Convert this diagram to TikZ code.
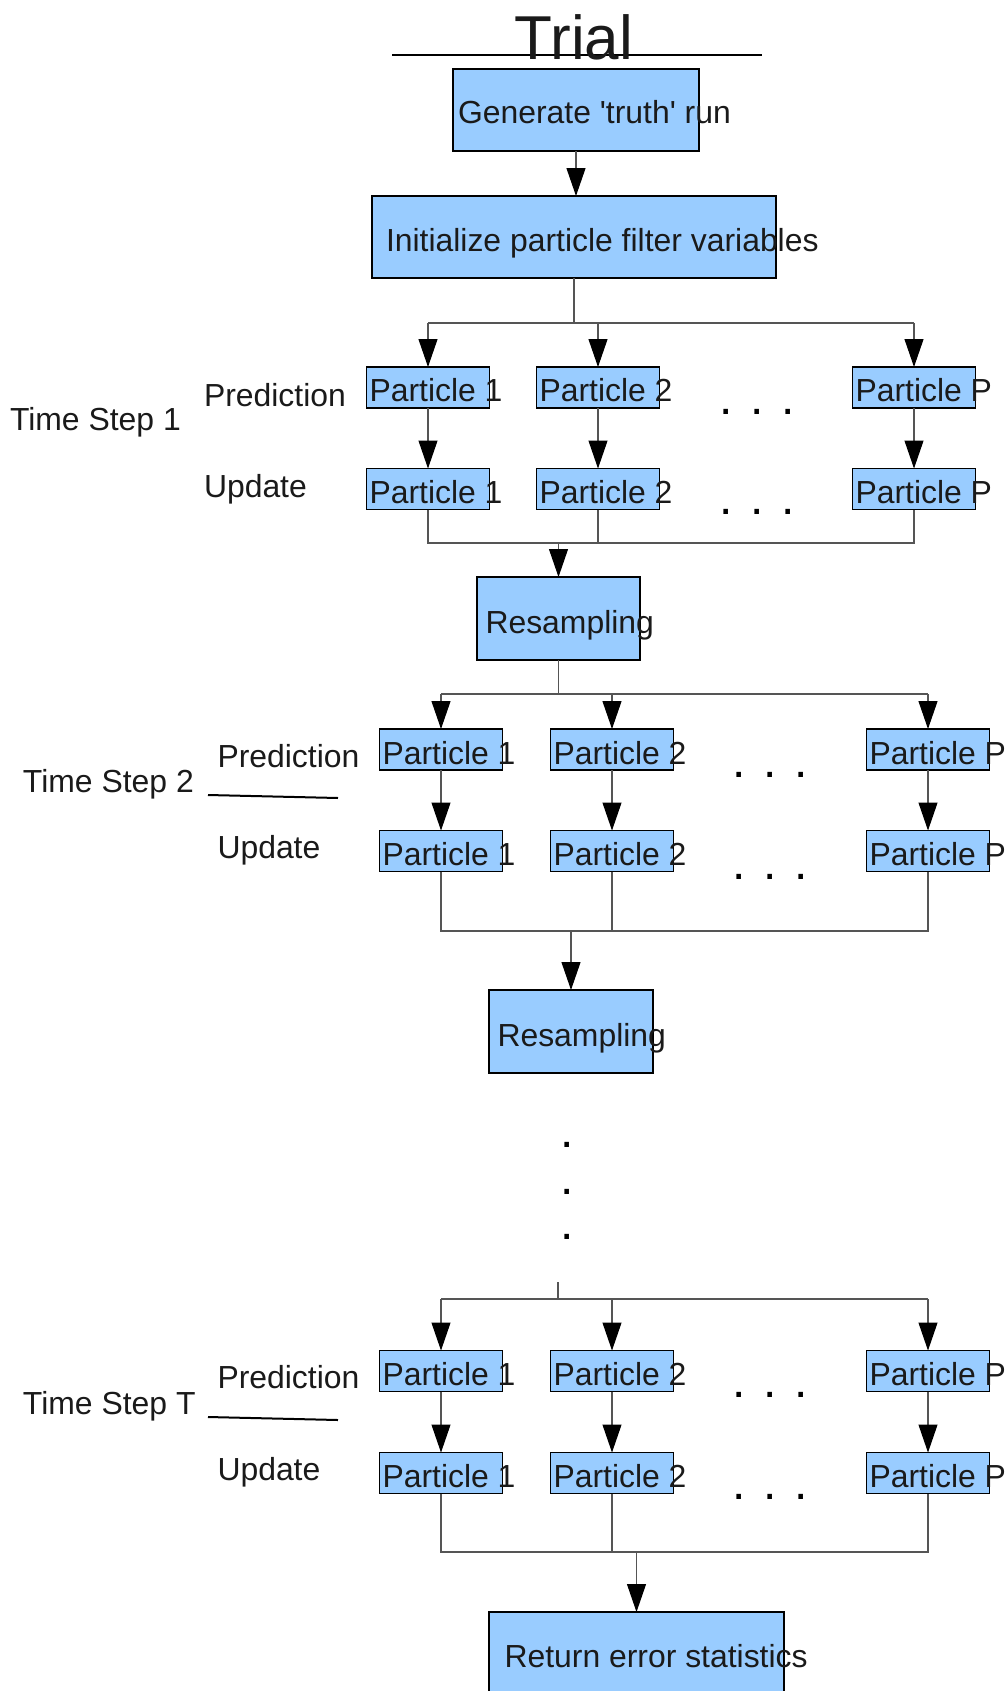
\documentclass[tikz,border=0pt]{standalone}
\usepackage{fontspec}
\setmainfont{Liberation Sans}[Ligatures=TeXOff]
\usetikzlibrary{arrows.meta}
\definecolor{boxblue}{HTML}{99CCFF}
\definecolor{txtc}{HTML}{1A1A1A}
\definecolor{wire}{HTML}{555555}
\begin{document}
\begin{tikzpicture}[x=1pt,y=-1pt,
  every node/.style={inner sep=0pt, outer sep=0pt},
  box/.style={draw=black, line width=1.9pt, fill=boxblue},
  pbox/.style={box, minimum width=123pt, minimum height=41pt},
  txt/.style={anchor=base west, text=txtc, font=\fontsize{31.9pt}{38pt}\selectfont},
  dots/.style={anchor=base, text=black, font=\fontsize{48pt}{56pt}\selectfont},
  conn/.style={draw=wire, line width=1.1pt},
  arr/.style={conn, -{Triangle[length=28pt,width=19pt,color=black]}},
  uline/.style={draw=black, line width=2pt},
]
\useasboundingbox (0,0) rectangle (1006,1691);

% ---------- title ----------
\coordinate (tl) at (392,55);
\coordinate (tr) at (762,55);
\draw[line width=1.5pt, black] (tl) -- (tr);
\node[anchor=base, text=txtc, font=\fontsize{62pt}{70pt}\selectfont] (trial) at (574,60) {Trial};

% ---------- top boxes ----------
\node[box, minimum width=246pt, minimum height=82pt] (gen) at (576,110) {};
\node[txt] (gent) at ([shift={(5,14)}]gen.west) {Generate 'truth' run};
\node[box, minimum width=404pt, minimum height=82pt] (init) at (574,237) {};
\node[txt] (initt) at ([shift={(14,14.5)}]init.west) {Initialize particle filter variables};
\draw[arr] (gen.south) -- (gen.south |- init.north);

% ---------- time step 1 ----------
\foreach \c/\x in {1/428, 2/598, P/914} {
  \node[pbox] (pa\c) at (\x,387.5) {};
  \node[txt] (tpa\c) at ([shift={(3,14)}]pa\c.west) {Particle \c};
  \node[pbox] (ua\c) at (\x,489) {};
  \node[txt] (tua\c) at ([shift={(3,14)}]ua\c.west) {Particle \c};
}
\node[txt] (ts1) at (10,430) {Time Step 1};
\node[txt] (pr1) at (204,406) {Prediction};
\node[txt] (up1) at (204,497) {Update};
\node[dots] (da1) at (757,414.5) {. . .};
\node[dots] (db1) at (757,514.5) {. . .};

\coordinate (b1) at (574,323);
\draw[conn] (init.south) -- (b1);
\draw[conn] (b1 -| pa1.north) -- (b1 -| paP.north);
\foreach \c in {1,2,P} {
  \draw[arr] (b1 -| pa\c.north) -- (pa\c.north);
  \draw[arr] (pa\c.south) -- (ua\c.north);
}
\node[box, minimum width=163pt, minimum height=83pt] (res1) at (558.5,618.5) {};
\node[txt] (res1t) at ([shift={(8.5,14.5)}]res1.west) {Resampling};
\coordinate (m1) at (558.5,543);
\draw[conn] (ua1.south) -- (ua1.south |- m1) -- (uaP.south |- m1) -- (uaP.south);
\draw[conn] (ua2.south) -- (ua2.south |- m1) -- (m1);
\draw[arr] (m1) -- (res1.north);

% ---------- time step 2 ----------
\foreach \c/\x in {1/441, 2/612, P/928} {
  \node[pbox] (pb\c) at (\x,749.5) {};
  \node[txt] (tpb\c) at ([shift={(3,14.5)}]pb\c.west) {Particle \c};
  \node[pbox] (ub\c) at (\x,851) {};
  \node[txt] (tub\c) at ([shift={(3,14.5)}]ub\c.west) {Particle \c};
}
\node[txt] (ts2) at (23,792) {Time Step 2};
\coordinate (l2a) at (208,795);
\coordinate (l2b) at (338,798);
\draw[uline] (l2a) -- (l2b);
\node[txt] (pr2) at (217.5,767) {Prediction};
\node[txt] (up2) at (217.5,858) {Update};
\node[dots] (da2) at (770,777.5) {. . .};
\node[dots] (db2) at (770,879.5) {. . .};

\coordinate (b2) at (558.5,694);
\draw[conn] (res1.south) -- (b2);
\draw[conn] (b2 -| pb1.north) -- (b2 -| pbP.north);
\foreach \c in {1,2,P} {
  \draw[arr] (b2 -| pb\c.north) -- (pb\c.north);
  \draw[arr] (pb\c.south) -- (ub\c.north);
}
\node[box, minimum width=164pt, minimum height=83pt] (res2) at (571,1031.5) {};
\node[txt] (res2t) at ([shift={(8.5,15)}]res2.west) {Resampling};
\coordinate (m2) at (571,931);
\draw[conn] (ub1.south) -- (ub1.south |- m2) -- (ubP.south |- m2) -- (ubP.south);
\draw[conn] (ub2.south) -- (ub2.south |- m2) -- (m2);
\draw[arr] (m2) -- (res2.north);

% ---------- vertical dots ----------
\node[dots] (v1) at (567,1147.5) {.};
\node[dots] (v2) at (567,1194.5) {.};
\node[dots] (v3) at (567,1239.5) {.};

% ---------- time step T ----------
\foreach \c/\x in {1/441, 2/612, P/928} {
  \node[pbox] (pc\c) at (\x,1371) {};
  \node[txt] (tpc\c) at ([shift={(3,14)}]pc\c.west) {Particle \c};
  \node[pbox] (uc\c) at (\x,1473) {};
  \node[txt] (tuc\c) at ([shift={(3,14)}]uc\c.west) {Particle \c};
}
\node[txt] (ts3) at (23,1414) {Time Step T};
\coordinate (l3a) at (208,1417);
\coordinate (l3b) at (338,1420);
\draw[uline] (l3a) -- (l3b);
\node[txt] (pr3) at (217.5,1388) {Prediction};
\node[txt] (up3) at (217.5,1480) {Update};
\node[dots] (da3) at (770,1397.5) {. . .};
\node[dots] (db3) at (770,1499.5) {. . .};

\coordinate (s3) at (558,1282);
\coordinate (b3) at (558,1299);
\draw[conn] (s3) -- (b3);
\draw[conn] (b3 -| pc1.north) -- (b3 -| pcP.north);
\foreach \c in {1,2,P} {
  \draw[arr] (b3 -| pc\c.north) -- (pc\c.north);
  \draw[arr] (pc\c.south) -- (uc\c.north);
}
\node[box, minimum width=295pt, minimum height=90pt] (ret) at (636.5,1657) {};
\node[txt] (rett) at ([shift={(15.5,10)}]ret.west) {Return error statistics};
\coordinate (m3) at (636.5,1552);
\draw[conn] (uc1.south) -- (uc1.south |- m3) -- (ucP.south |- m3) -- (ucP.south);
\draw[conn] (uc2.south) -- (uc2.south |- m3) -- (m3);
\draw[arr] (m3) -- (ret.north);
\end{tikzpicture}
\end{document}
